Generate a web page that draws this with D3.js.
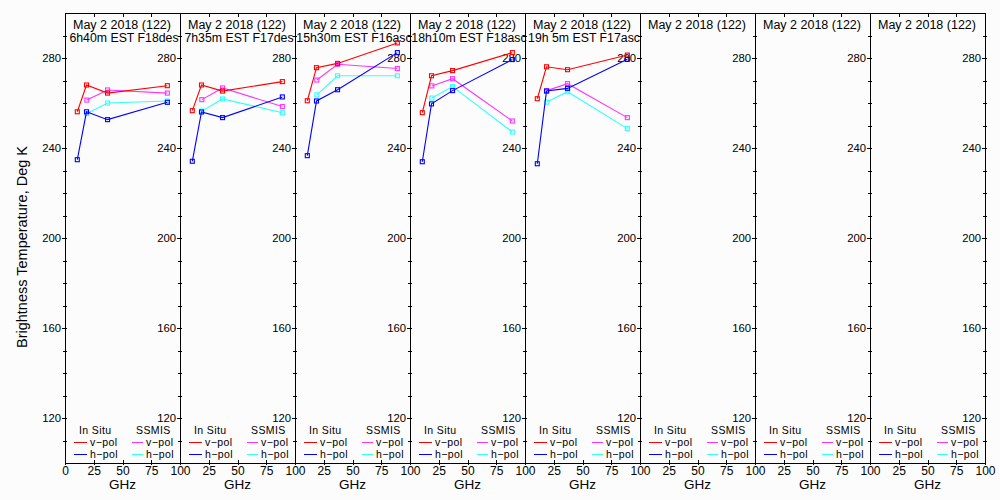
<!DOCTYPE html>
<html>
<head>
<meta charset="utf-8">
<script src="https://cdn.jsdelivr.net/npm/d3@7"></script>
<style>
  body { margin: 0; background: #fcfcfc; }
  svg { display: block; font-family: "Liberation Sans", Arial, sans-serif; }
  .tick text { fill: #000; }
</style>
</head>
<body>
<div id="chart"></div>
<script>
const dateLabel = "May 2 2018 (122)";
const passLabels = ["6h40m EST F18des", "7h35m EST F17des", "15h30m EST F16asc",
  "18h10m EST F18asc", "19h 5m EST F17asc", "", "", ""];

// frequencies, GHz
const inSituFreq = [10.7, 18.7, 37, 89];
const ssmisFreq = [19, 37, 89];

// brightness temperatures per panel (null = no data)
const inSituV = [
  [256.1, 268.0, 264.4, 267.7],
  [256.6, 268.0, 265.3, 269.5],
  [261.0, 275.7, 277.6, 286.7],
  [255.7, 272.1, 274.4, 282.4],
  [261.9, 276.1, 274.8, 281.3],
  null, null, null];
const inSituH = [
  [234.8, 256.1, 252.6, 260.3],
  [234.1, 256.0, 253.5, 262.7],
  [236.6, 260.9, 265.9, 282.4],
  [233.9, 259.6, 265.5, 279.3],
  [233.0, 265.3, 266.5, 279.4],
  null, null, null];
const ssmisV = [
  [261.3, 265.8, 264.4],
  [261.5, 266.7, 258.4],
  [270.2, 277.2, 275.3],
  [267.6, 270.8, 252.0],
  [265.5, 268.6, 253.5],
  null, null, null];
const ssmisH = [
  [255.3, 260.0, 260.9],
  [256.4, 261.8, 255.7],
  [263.6, 272.1, 272.1],
  [262.2, 267.3, 247.1],
  [260.4, 265.0, 248.6],
  null, null, null];

const xTicks = [0, 25, 50, 75, 100];
const yMajor = [120, 160, 200, 240, 280];
const yMinor = d3.range(110, 300, 10);

const W = 1000, H = 500;
const left0 = 65, panelW = 115, plotTop = 13, plotBottom = 463;
const nPanels = passLabels.length;

const svg = d3.select("#chart").append("svg")
    .attr("width", W)
    .attr("height", H);

const y = d3.scaleLinear().domain([100, 300]).range([plotBottom, plotTop]);

const series = [
  {vals: ssmisV, freq: ssmisFreq, color: "#ff33ff"},
  {vals: ssmisH, freq: ssmisFreq, color: "#33ffff"},
  {vals: inSituV, freq: inSituFreq, color: "#ff0000"},
  {vals: inSituH, freq: inSituFreq, color: "#0000ff"}
];

function clean(g) {
  g.select(".domain").remove();
  g.selectAll("line").attr("stroke", "#000").attr("shape-rendering", "crispEdges");
}

for (let p = 0; p < nPanels; p++) {
  const x0 = left0 + p * panelW;
  const x = d3.scaleLinear().domain([0, 100]).range([x0, x0 + panelW]);
  const g = svg.append("g");

  // frame
  g.append("rect")
      .attr("x", x0).attr("y", plotTop)
      .attr("width", panelW).attr("height", plotBottom - plotTop)
      .attr("fill", "none").attr("stroke", "#000")
      .attr("shape-rendering", "crispEdges");

  // y ticks on both side lines, crossing the frame
  [x0, x0 + panelW].forEach(xx => {
    g.append("g").attr("transform", `translate(${xx},0)`)
      .call(d3.axisLeft(y).tickValues(yMinor).tickSize(2).tickFormat(""))
      .call(clean);
    g.append("g").attr("transform", `translate(${xx},0)`)
      .call(d3.axisRight(y).tickValues(yMinor).tickSize(2).tickFormat(""))
      .call(clean);
  });

  // y labels sit left of each boundary
  const labelXs = p === 0 ? [x0, x0 + panelW] : [x0 + panelW];
  labelXs.forEach(xx => {
    g.append("g").attr("transform", `translate(${xx},0)`)
      .call(d3.axisLeft(y).tickValues(yMajor).tickSize(3).tickPadding(1))
      .call(clean)
      .selectAll("text").attr("font-size", 11.3).attr("font-family", "Liberation Sans, Arial, sans-serif");
  });

  // x ticks top and bottom
  g.append("g").attr("transform", `translate(0,${plotTop})`)
    .call(d3.axisBottom(x).tickValues(xTicks.slice(1, 4)).tickSize(4).tickFormat(""))
    .call(clean);
  g.append("g").attr("transform", `translate(0,${plotBottom})`)
    .call(d3.axisTop(x).tickValues(xTicks.slice(1, 4)).tickSize(3).tickFormat(""))
    .call(clean);
  g.append("g").attr("transform", `translate(0,${plotBottom})`)
    .call(d3.axisBottom(x).tickValues(p === 0 ? xTicks : xTicks.slice(1)).tickSize(2).tickPadding(1))
    .call(clean)
    .selectAll("text").attr("font-size", 12).attr("font-family", "Liberation Sans, Arial, sans-serif");

  g.append("text")
      .attr("x", x0 + panelW / 2).attr("y", 489)
      .attr("text-anchor", "middle").attr("font-size", 13.5)
      .text("GHz");

  // titles
  g.append("text")
      .attr("x", x0 + 57).attr("y", 28.5)
      .attr("text-anchor", "middle").attr("font-size", 12.5)
      .text(dateLabel);
  if (passLabels[p]) {
    g.append("text")
        .attr("x", x0 + 59).attr("y", 42)
        .attr("text-anchor", "middle").attr("font-size", 12.3)
        .text(passLabels[p]);
  }

  // data
  const line = d3.line().x(d => x(d[0])).y(d => y(d[1]));
  series.forEach(s => {
    const v = s.vals[p];
    if (!v) return;
    const pts = v.map((t, i) => [s.freq[i], t]);
    g.append("path").datum(pts)
        .attr("d", line)
        .attr("fill", "none").attr("stroke", s.color).attr("stroke-width", 1.1);
    g.selectAll(null).data(pts).enter().append("rect")
        .attr("x", d => x(d[0]) - 2).attr("y", d => y(d[1]) - 2)
        .attr("width", 4).attr("height", 4)
        .attr("fill", "none").attr("stroke", s.color).attr("stroke-width", 1.1);
  });

  // legend
  const lg = g.append("g").attr("font-size", 10.5).attr("letter-spacing", 0.4);
  lg.append("text").attr("x", x0 + 14).attr("y", 434).text("In Situ");
  lg.append("text").attr("x", x0 + 71).attr("y", 434).text("SSMIS");
  const rows = [
    {dx: 9, lx: 13, ty: 442, c: "#ff0000", t: "v\u2212pol"},
    {dx: 9, lx: 13, ty: 454, c: "#0000ff", t: "h\u2212pol"},
    {dx: 67, lx: 11, ty: 442, c: "#ff33ff", t: "v\u2212pol"},
    {dx: 67, lx: 11, ty: 454, c: "#33ffff", t: "h\u2212pol"}
  ];
  rows.forEach(r => {
    lg.append("line")
        .attr("x1", x0 + r.dx).attr("x2", x0 + r.dx + r.lx)
        .attr("y1", r.ty).attr("y2", r.ty)
        .attr("stroke", r.c).attr("shape-rendering", "crispEdges");
    lg.append("text")
        .attr("x", x0 + r.dx + r.lx + 3).attr("y", r.ty + 3.5)
        .text(r.t);
  });
}

svg.append("text")
    .attr("transform", "translate(26.5,247)rotate(-90)")
    .attr("text-anchor", "middle").attr("font-size", 14.5)
    .text("Brightness Temperature, Deg K");
</script>
</body>
</html>
